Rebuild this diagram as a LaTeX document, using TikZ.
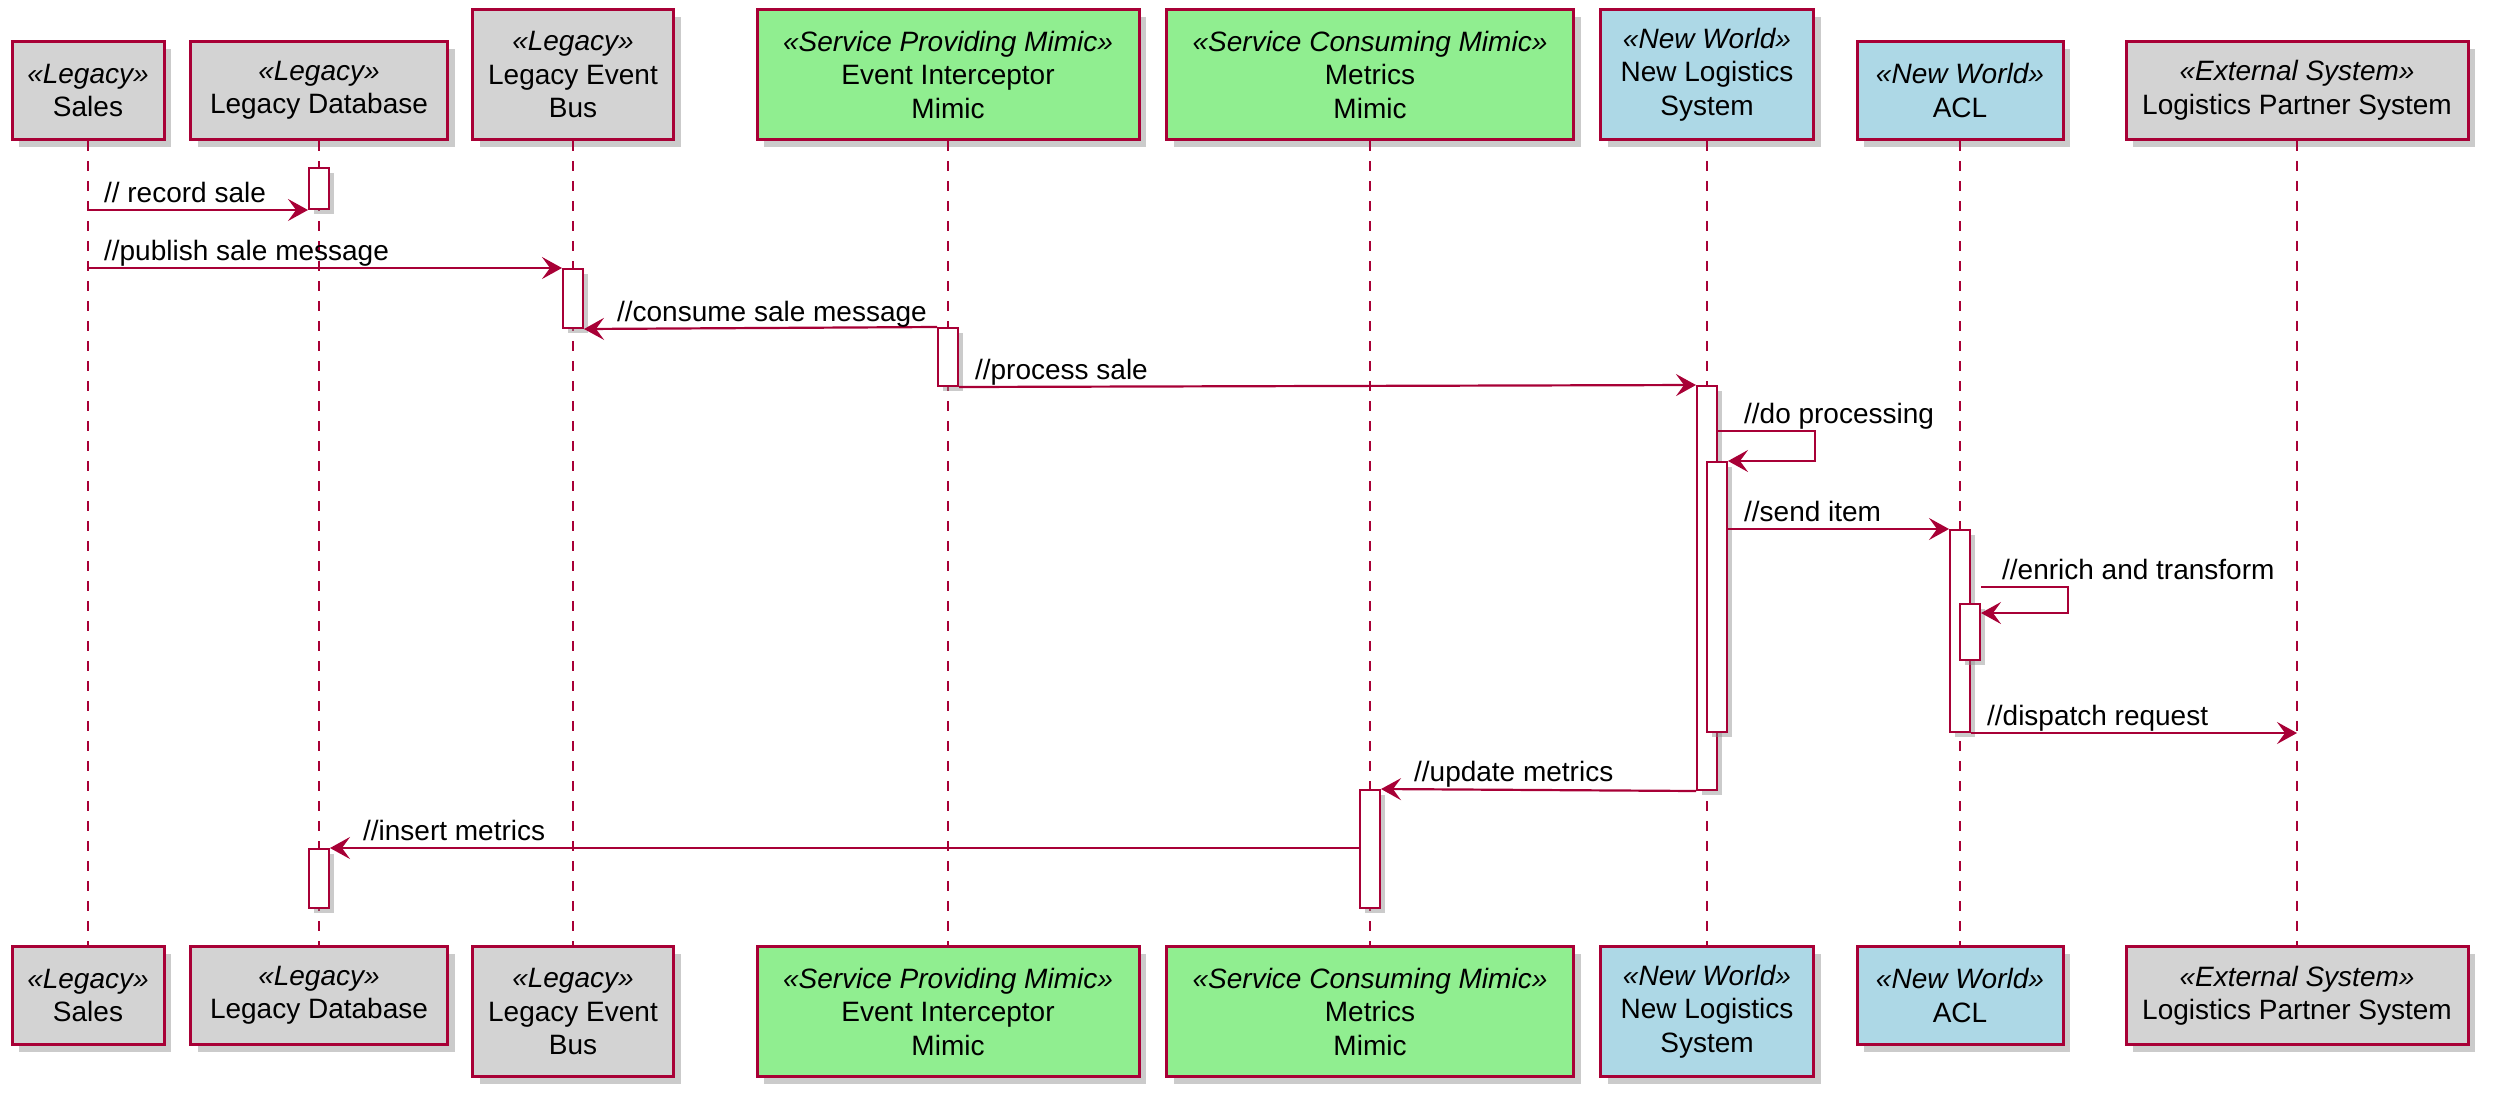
\documentclass[tikz,border=0pt]{standalone}
\usepackage{fontspec}
\setmainfont{Liberation Sans}
\usetikzlibrary{positioning,shadows,arrows.meta}
\definecolor{umlred}{HTML}{A80036}
\definecolor{legacygray}{HTML}{D3D3D3}
\definecolor{mimicgreen}{HTML}{90EE90}
\definecolor{newblue}{HTML}{ADD8E6}

\tikzset{
  txt/.style={font=\fontsize{28}{33.5}\selectfont},
  part/.style={txt, draw=umlred, line width=3pt, align=center, inner sep=4pt,
    drop shadow={shadow xshift=7pt, shadow yshift=-7pt, fill=black!45, opacity=.45}},
  short/.style={minimum height=98pt},
  tall/.style={minimum height=130pt},
  legacy/.style={part, fill=legacygray},
  mimic/.style={part, fill=mimicgreen},
  newworld/.style={part, fill=newblue},
  life/.style={draw=umlred, line width=2pt, dash pattern=on 10pt off 10pt},
  act/.style={draw=umlred, fill=white, line width=2pt, minimum width=20pt, inner sep=0pt, anchor=north,
    drop shadow={shadow xshift=5pt, shadow yshift=-5pt, fill=black!45, opacity=.45}},
  msg/.style={draw=umlred, line width=2.2pt, -{Stealth[length=20pt, width=22pt, inset=8pt]}},
  lbl/.style={txt, anchor=base west, inner sep=0pt, yshift=8pt},
  rlbl/.style={lbl, pos=0, xshift=15pt},
  llbl/.style={lbl, pos=1, xshift=32pt}
}

\begin{document}
\begin{tikzpicture}[x=1pt, y=-1pt]
  \useasboundingbox (0,0) rectangle (2504,1096);

  % Participants on top
  \node[legacy, short, minimum width=152pt, anchor=south] (sales) at (88,141) {\textit{«Legacy»}\\Sales};
  \node[legacy, short, minimum width=257pt, anchor=south] (db) at (319,141) {\textit{«Legacy»}\\Legacy Database};
  \node[legacy, tall, minimum width=201pt, anchor=south] (bus) at (573,141) {\textit{«Legacy»}\\Legacy Event\\Bus};
  \node[mimic, tall, minimum width=382pt, anchor=south] (eim) at (948,141) {\textit{«Service Providing Mimic»}\\Event Interceptor\\Mimic};
  \node[mimic, tall, minimum width=407pt, anchor=south] (mm) at (1370,141) {\textit{«Service Consuming Mimic»}\\Metrics\\Mimic};
  \node[newworld, tall, minimum width=213pt, anchor=south] (nls) at (1707,141) {\textit{«New World»}\\New Logistics\\System};
  \node[newworld, short, minimum width=206pt, anchor=south] (acl) at (1960,141) {\textit{«New World»}\\ACL};
  \node[legacy, short, minimum width=342pt, anchor=south] (lps) at (2297,141) {\textit{«External System»}\\Logistics Partner System};

  % Participants at the bottom
  \node[legacy, short, minimum width=152pt, anchor=north] (salesB) at (88,945) {\textit{«Legacy»}\\Sales};
  \node[legacy, short, minimum width=257pt, anchor=north] (dbB) at (319,945) {\textit{«Legacy»}\\Legacy Database};
  \node[legacy, tall, minimum width=201pt, anchor=north] (busB) at (573,945) {\textit{«Legacy»}\\Legacy Event\\Bus};
  \node[mimic, tall, minimum width=382pt, anchor=north] (eimB) at (948,945) {\textit{«Service Providing Mimic»}\\Event Interceptor\\Mimic};
  \node[mimic, tall, minimum width=407pt, anchor=north] (mmB) at (1370,945) {\textit{«Service Consuming Mimic»}\\Metrics\\Mimic};
  \node[newworld, tall, minimum width=213pt, anchor=north] (nlsB) at (1707,945) {\textit{«New World»}\\New Logistics\\System};
  \node[newworld, short, minimum width=206pt, anchor=north] (aclB) at (1960,945) {\textit{«New World»}\\ACL};
  \node[legacy, short, minimum width=342pt, anchor=north] (lpsB) at (2297,945) {\textit{«External System»}\\Logistics Partner System};

  % Lifelines
  \foreach \p in {sales, db, bus, eim, mm, nls, acl, lps}
    \draw[life] (\p) -- (\p B);

  % Activations
  \node[act, minimum height=41pt] (dbA) at (db |- 0,167) {};
  \node[act, minimum height=59pt] (busA) at (bus |- 0,268) {};
  \node[act, minimum height=58pt] (eimA) at (eim |- 0,327) {};
  \node[act, minimum height=404pt] (nlsA) at (nls |- 0,385) {};
  \node[act, minimum height=270pt, xshift=10pt] (nlsA2) at (nls |- 0,461) {};
  \node[act, minimum height=202pt] (aclA) at (acl |- 0,529) {};
  \node[act, minimum height=56pt, xshift=10pt] (aclA2) at (acl |- 0,603) {};
  \node[act, minimum height=118pt] (mmA) at (mm |- 0,789) {};
  \node[act, minimum height=59pt] (dbA2) at (db |- 0,848) {};

  % Messages
  \draw[msg] (sales |- dbA.south) -- node[rlbl] {// record sale} (dbA.south west);
  \draw[msg] (sales |- busA.north) -- node[rlbl] {//publish sale message} (busA.north west);
  \draw[msg] (eimA.north west) -- node[llbl] {//consume sale message} (busA.south east);
  \draw[msg] (eimA.south east) -- node[rlbl] {//process sale} (nlsA.north west);
  \draw[msg] (nlsA.east |- 0,431) node[lbl, xshift=25pt] {//do processing} -- ++(97,0) |- (nlsA2.north east);
  \draw[msg] (nlsA2.east |- aclA.north) -- node[rlbl] {//send item} (aclA.north west);
  \draw[msg] (aclA2.east |- 0,587) node[lbl, xshift=20pt] {//enrich and transform} -- ++(87,0) |- (aclA2.east |- 0,613);
  \draw[msg] (aclA.south east) -- node[rlbl] {//dispatch request} (lps |- aclA.south);
  \draw[msg] (nlsA.south west) -- node[llbl] {//update metrics} (mmA.north east);
  \draw[msg] (mmA.west |- dbA2.north) -- node[llbl] {//insert metrics} (dbA2.north east);
\end{tikzpicture}
\end{document}
